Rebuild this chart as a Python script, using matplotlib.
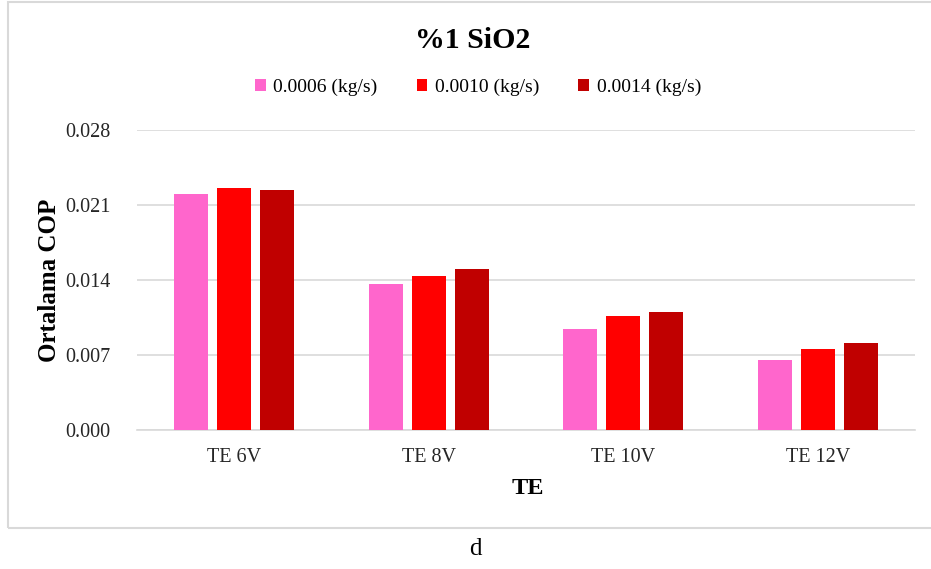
import matplotlib
matplotlib.use("Agg")
import matplotlib.pyplot as plt
import numpy as np
from matplotlib.patches import Rectangle

plt.rcParams['font.family'] = ['Liberation Serif', 'DejaVu Serif']

# Ortalama COP degerleri, her gerilim icin
categories = ['TE 6V', 'TE 8V', 'TE 10V', 'TE 12V']
flow_labels = ['0.0006 (kg/s)', '0.0010 (kg/s)', '0.0014 (kg/s)']
cop_0006 = [0.0220, 0.0136, 0.0094, 0.0065]
cop_0010 = [0.0226, 0.0144, 0.0106, 0.0076]
cop_0014 = [0.0224, 0.0150, 0.0110, 0.0081]
colors = ['#FF66CC', '#FF0000', '#C00000']

fig = plt.figure(figsize=(9.31, 5.69), dpi=100)
ax = fig.add_axes([137 / 931, 1 - 430 / 569, 778 / 931, 300 / 569])

x = np.arange(len(categories))
width = 0.175
step = 0.221
for i, (vals, lab, col) in enumerate(zip([cop_0006, cop_0010, cop_0014], flow_labels, colors)):
    ax.bar(x + (i - 1) * step, vals, width, color=col, label=lab, zorder=3)

ax.set_xlim(-0.5, 3.5)
ax.set_ylim(0, 0.028)
ax.set_yticks([0.000, 0.007, 0.014, 0.021, 0.028])
ax.set_yticklabels(['0.000', '0.007', '0.014', '0.021', '0.028'])
ax.set_xticks(x)
ax.set_xticklabels(categories)
ax.tick_params(axis='y', length=0, pad=19, labelsize=14.5, colors='#262626')
ax.tick_params(axis='x', length=0, pad=13, labelsize=14.5, colors='#262626')
ax.grid(axis='y', color='#d9d9d9', linewidth=1.2, zorder=0)
for s in ['top', 'right', 'left']:
    ax.spines[s].set_visible(False)
ax.spines['bottom'].set_color('#d9d9d9')
ax.spines['bottom'].set_linewidth(1.2)

ax.set_ylabel('Ortalama COP', fontsize=18, fontweight='bold')
ax.yaxis.set_label_coords(-76 / 778, 0.5)
fig.text(528 / 931, 1 - 488 / 569, 'TE', ha='center', va='center', fontsize=17.5, fontweight='bold')
fig.text(473 / 931, 1 - 41 / 569, '%1 SiO2', ha='center', va='center', fontsize=21.5, fontweight='bold')
fig.text(475 / 931, 1 - 549 / 569, 'd', ha='center', va='center', fontsize=18)

fig.legend(loc='center', bbox_to_anchor=(478 / 931, 1 - 87 / 569), ncol=3, frameon=False,
           fontsize=14, handlelength=0.55, handleheight=0.55, handletextpad=0.4, columnspacing=2.0)

# cerceve
fig.patches.append(Rectangle((8 / 931, 1 - 528 / 569), 1.0, 526 / 569, transform=fig.transFigure,
                             fill=False, edgecolor='#d9d9d9', linewidth=1.5))

fig.savefig('out.png', dpi=100)
